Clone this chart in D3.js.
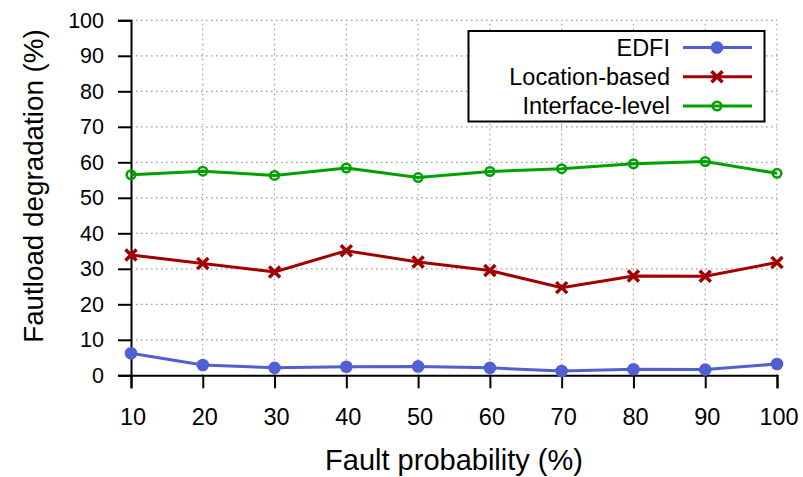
<!DOCTYPE html>
<html>
<head>
<meta charset="utf-8">
<script src="https://cdn.jsdelivr.net/npm/d3@7"></script>
<style>
  body { margin: 0; background: #fff; }
  text { font-family: "Liberation Sans", Arial, sans-serif; fill: #000; }
</style>
</head>
<body>
<div id="chart"></div>
<script>
const WIDTH = 803;
const HEIGHT = 477;

// data
const probabilities = [10, 20, 30, 40, 50, 60, 70, 80, 90, 100];
const edfi = [6.2, 2.9, 2.1, 2.4, 2.5, 2.1, 1.2, 1.7, 1.6, 3.2];
const locationBased = [33.9, 31.5, 29.1, 35.1, 31.9, 29.5, 24.7, 28.0, 27.9, 31.8];
const interfaceLevel = [56.5, 57.5, 56.3, 58.4, 55.7, 57.4, 58.2, 59.6, 60.2, 56.9];
const yTicks = [0, 10, 20, 30, 40, 50, 60, 70, 80, 90, 100];

const series = [
    { name: 'EDFI', values: edfi, color: '#5060d0', marker: 'dot' },
    { name: 'Location-based', values: locationBased, color: '#a00000', marker: 'cross' },
    { name: 'Interface-level', values: interfaceLevel, color: '#00a000', marker: 'ring' }
];

const margin = { left: 131, right: 26, top: 20.3, bottom: 101.7 };

var svg = d3.select('#chart')
    .append('svg')
    .attr('width', WIDTH)
    .attr('height', HEIGHT);

var x = d3.scaleLinear()
    .domain([10, 100])
    .range([margin.left, WIDTH - margin.right]);

var y = d3.scaleLinear()
    .domain([0, 100])
    .range([HEIGHT - margin.bottom, margin.top]);

// grid
svg.append('g')
    .selectAll('line')
    .data(probabilities.slice(1))
    .join('line')
    .attr('x1', d => x(d)).attr('x2', d => x(d))
    .attr('y1', y(0)).attr('y2', y(100))
    .attr('stroke', '#999').attr('stroke-width', 1.2)
    .attr('stroke-dasharray', '1.5,3.5');

svg.append('g')
    .selectAll('line')
    .data(yTicks.slice(1))
    .join('line')
    .attr('x1', x(10)).attr('x2', x(100))
    .attr('y1', d => y(d)).attr('y2', d => y(d))
    .attr('stroke', '#999').attr('stroke-width', 1.2)
    .attr('stroke-dasharray', '1.5,3.5');

// axes
var xAxis = svg.append('g')
    .attr('transform', `translate(0,${y(0)})`)
    .call(d3.axisBottom(x).tickValues(probabilities).tickSize(13).tickPadding(20));

var yAxis = svg.append('g')
    .attr('transform', `translate(${x(10)},0)`)
    .call(d3.axisLeft(y).tickValues(yTicks).tickSize(13).tickPadding(14));

[xAxis, yAxis].forEach(ax => {
    ax.select('.domain').attr('stroke', '#000').attr('stroke-width', 2);
    ax.selectAll('.tick line').attr('stroke', '#000').attr('stroke-width', 2);
    ax.selectAll('.tick text').attr('fill', '#000').attr('font-family', '"Liberation Sans", Arial, sans-serif');
});
yAxis.selectAll('.tick text').attr('font-size', 21.5);
xAxis.selectAll('.tick text').attr('font-size', 23.5).attr('x', 1.5);

// labels
svg.append('text')
    .attr('x', 454).attr('y', 470)
    .attr('text-anchor', 'middle')
    .attr('font-size', 29)
    .text('Fault probability (%)');

svg.append('text')
    .attr('transform', 'translate(43,186) rotate(-90)')
    .attr('text-anchor', 'middle')
    .attr('font-size', 27.8)
    .text('Fautload degradation (%)');

// lines and markers
var line = d3.line()
    .x((d, i) => x(probabilities[i]))
    .y(d => y(d));

function drawMarker(g, type, color) {
    if (type === 'dot') {
        g.append('circle').attr('r', 6.3).attr('fill', color);
    } else if (type === 'cross') {
        g.append('path').attr('d', 'M-5.5,-5.5L5.5,5.5M-5.5,5.5L5.5,-5.5')
            .attr('stroke', color).attr('stroke-width', 3.5).attr('fill', 'none');
    } else {
        g.append('circle').attr('r', 4.3).attr('fill', 'none')
            .attr('stroke', color).attr('stroke-width', 2.5);
    }
}

series.forEach(s => {
    svg.append('path')
        .datum(s.values)
        .attr('d', line)
        .attr('fill', 'none')
        .attr('stroke', s.color)
        .attr('stroke-width', 3);
    s.values.forEach((v, i) => {
        var g = svg.append('g').attr('transform', `translate(${x(probabilities[i])},${y(v)})`);
        drawMarker(g, s.marker, s.color);
    });
});

// legend
var legend = svg.append('g');
legend.append('rect')
    .attr('x', 468.5).attr('y', 31)
    .attr('width', 296).attr('height', 90.5)
    .attr('fill', '#fff').attr('stroke', '#000').attr('stroke-width', 2);

var legendRows = [47.5, 76.7, 106];
series.forEach((s, i) => {
    var ly = legendRows[i];
    legend.append('text')
        .attr('x', 670).attr('y', ly + 8.3)
        .attr('text-anchor', 'end')
        .attr('font-size', 23.5)
        .text(s.name);
    legend.append('line')
        .attr('x1', 683).attr('x2', 752)
        .attr('y1', ly).attr('y2', ly)
        .attr('stroke', s.color).attr('stroke-width', 3);
    var g = legend.append('g').attr('transform', `translate(717,${ly})`);
    drawMarker(g, s.marker, s.color);
});
</script>
</body>
</html>
